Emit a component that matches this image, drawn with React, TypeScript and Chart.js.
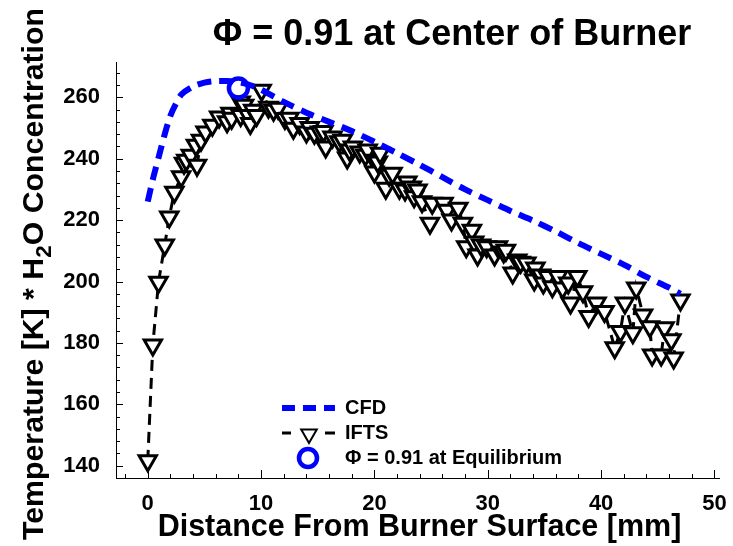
import React, { useEffect, useRef } from 'react';
import { Chart, registerables } from 'chart.js';

Chart.register(...registerables);

// ---- data ----
const TITLE = 'Φ = 0.91 at Center of Burner';
const X_TITLE = 'Distance From Burner Surface [mm]';
const Y_TITLE_PARTS = ['Temperature [K] * H', '2', 'O Concentration'];
const LEGEND_LABELS = ['CFD', 'IFTS', 'Φ = 0.91 at Equilibrium'];

const X_TICKS = [0, 10, 20, 30, 40, 50];
const Y_TICKS = [140, 160, 180, 200, 220, 240, 260];

const CFD_X = [0, 0.5, 1, 1.5, 2, 2.5, 3, 4, 5, 6, 7, 8, 9, 10, 12, 14, 16, 18, 20, 22, 24, 26, 28, 30, 32, 34, 36, 38, 40, 42, 44, 46, 47];
const CFD_Y = [226, 234, 241, 248, 254, 258, 261, 263.5, 264.8, 265.3, 265.3, 265, 264, 262.5, 258.5, 255, 252, 249, 245.5, 241.8, 238, 234, 230, 226.5, 223, 219.8, 216.3, 212.5, 209, 205.5, 201.5, 198, 196];

const IFTS_X = [
  0.0, 0.45, 0.95, 1.5, 1.9, 2.35, 2.95, 3.2, 3.4, 3.8,
  4.25, 4.35, 4.7, 5.1, 5.7, 6.3, 7.0, 7.3, 7.4, 8.2,
  8.2, 8.5, 8.9, 9.05, 9.3, 9.6, 10.05, 10.65, 11.1, 11.5,
  12.1, 12.5, 12.85, 13.4, 14.0, 14.3, 14.7, 15.2, 15.5, 15.7,
  16.3, 16.9, 17.2, 17.6, 17.8, 18.1, 18.7, 19.2, 19.4, 20.0,
  20.0, 20.3, 20.5, 21.0, 21.3, 21.6, 22.2, 22.7, 22.9, 23.3,
  23.5, 23.8, 24.2, 24.9, 25.1, 26.1, 26.4, 26.8, 27.4, 27.8,
  28.1, 28.6, 28.8, 29.1, 29.4, 29.9, 30.6, 30.9, 31.4, 31.6,
  32.2, 32.6, 32.9, 33.4, 34.1, 34.2, 34.7, 34.9, 35.3, 35.7,
  36.2, 36.6, 37.1, 37.3, 37.9, 38.4, 38.9, 39.6, 40.3, 41.2,
  41.7, 42.1, 42.8, 43.1, 43.7, 44.3, 44.5, 45.3, 45.6, 46.2,
  46.4, 47.0,
];
const IFTS_Y = [
  141.6, 179.3, 199.8, 211.9, 221, 229.1, 234.1, 238.5, 239.5, 241.1,
  244.4, 237.9, 246, 248.7, 250.9, 253.6, 252, 254.8, 253.2, 258.5,
  254.1, 257.4, 254.1, 251.5, 255.8, 254.1, 262.3, 256.8, 255.8, 256.4,
  253.1, 253.2, 249.9, 251.5, 248.7, 250.2, 248.3, 248.7, 248.9, 243.8,
  247.1, 245.5, 246, 240.2, 242.8, 243.8, 242.2, 241.1, 242.8, 239.5,
  235.7, 238.9, 241.8, 230.4, 234.6, 235.3, 230.4, 229.8, 232.4, 230.8,
  227.6, 229.8, 226, 219, 225.5, 225.5, 223.2, 220, 223.9, 219,
  211.3, 216.7, 212.9, 208.6, 211.9, 211.3, 208.6, 211.3, 209.6, 210.2,
  202.8, 207, 206.3, 206, 200.5, 204.4, 202.1, 199.5, 201.6, 198.3,
  201.6, 197.9, 199.5, 193, 201.6, 196.7, 188.6, 193, 190.2, 178.4,
  183.7, 193, 183.3, 197.9, 189.1, 185.3, 176.1, 176.1, 184.9, 181,
  175.1, 194,
];

const EQ_X = [8.0];
const EQ_Y = [263];

const FONT = "'Liberation Sans', Arial, Helvetica, sans-serif";
const BLUE = '#0000ff';

const decorPlugin = {
  id: 'decor',
  afterDraw(chart: any) {
    const ctx = chart.ctx as CanvasRenderingContext2D;
    const { left, right, top, bottom } = chart.chartArea;
    const xs = chart.scales.x;
    const ys = chart.scales.y;
    ctx.save();
    ctx.strokeStyle = '#000';
    ctx.lineWidth = 1;
    ctx.setLineDash([]);
    // inward ticks x
    for (let v = -2; v <= 50; v += 2) {
      const px = Math.round(xs.getPixelForValue(v)) + 0.5;
      if (px < left || px > right) continue;
      const len = v % 10 === 0 ? 8 : 4;
      ctx.beginPath();
      ctx.moveTo(px, bottom);
      ctx.lineTo(px, bottom - len);
      ctx.stroke();
    }
    // inward ticks y
    for (let v = 140; v <= 268; v += 4) {
      const py = Math.round(ys.getPixelForValue(v)) + 0.5;
      if (py < top || py > bottom) continue;
      const len = v % 20 === 0 ? 7 : 4;
      ctx.beginPath();
      ctx.moveTo(left, py);
      ctx.lineTo(left + len, py);
      ctx.stroke();
    }

    ctx.fillStyle = '#000';
    // main title
    ctx.font = `bold 36px ${FONT}`;
    ctx.textAlign = 'center';
    ctx.textBaseline = 'alphabetic';
    ctx.fillText(TITLE, 452, 45);

    // x title
    ctx.font = `bold 30.5px ${FONT}`;
    ctx.fillText(X_TITLE, (left + right) / 2 + 2, 536);

    // y title with subscript
    ctx.save();
    ctx.translate(43, 274);
    ctx.rotate(-Math.PI / 2);
    ctx.textAlign = 'left';
    const big = `bold 30.3px ${FONT}`;
    const small = `bold 22.5px ${FONT}`;
    ctx.font = big;
    const wA = ctx.measureText(Y_TITLE_PARTS[0]).width;
    const wC = ctx.measureText(Y_TITLE_PARTS[2]).width;
    ctx.font = small;
    const wB = ctx.measureText(Y_TITLE_PARTS[1]).width;
    const start = -(wA + wB + wC) / 2;
    ctx.font = big;
    ctx.fillText(Y_TITLE_PARTS[0], start, 0);
    ctx.font = small;
    ctx.fillText(Y_TITLE_PARTS[1], start + wA, 8);
    ctx.font = big;
    ctx.fillText(Y_TITLE_PARTS[2], start + wA + wB, 0);
    ctx.restore();

    // legend
    const lx0 = 282, lx1 = 335, tx = 345;
    const rows = [408, 433, 458];
    ctx.textAlign = 'left';
    ctx.textBaseline = 'middle';
    ctx.font = `bold 20px ${FONT}`;
    // CFD
    ctx.strokeStyle = BLUE;
    ctx.lineWidth = 6;
    ctx.setLineDash([13, 8]);
    ctx.beginPath();
    ctx.moveTo(lx0, rows[0]);
    ctx.lineTo(lx1, rows[0]);
    ctx.stroke();
    // IFTS
    ctx.strokeStyle = '#000';
    ctx.lineWidth = 3;
    ctx.setLineDash([]);
    ctx.beginPath();
    ctx.moveTo(lx0, rows[1]);
    ctx.lineTo(lx0 + 9, rows[1]);
    ctx.moveTo(lx1 - 10, rows[1]);
    ctx.lineTo(lx1, rows[1]);
    ctx.stroke();
    const cx = 309, cy = rows[1] + 1, r = 9;
    ctx.lineWidth = 2;
    ctx.beginPath();
    ctx.moveTo(cx - r * 0.866, cy - r / 2);
    ctx.lineTo(cx + r * 0.866, cy - r / 2);
    ctx.lineTo(cx, cy + r);
    ctx.closePath();
    ctx.fillStyle = '#fff';
    ctx.fill();
    ctx.stroke();
    // circle
    ctx.strokeStyle = BLUE;
    ctx.lineWidth = 4.5;
    ctx.beginPath();
    ctx.arc(308, rows[2], 9, 0, Math.PI * 2);
    ctx.stroke();
    ctx.fillStyle = '#000';
    LEGEND_LABELS.forEach((t, i) => ctx.fillText(t, tx, rows[i]));
    ctx.restore();
  },
};

export default function App() {
  const ref = useRef<HTMLCanvasElement | null>(null);
  useEffect(() => {
    if (!ref.current) return;
    const tickFont = { family: FONT, size: 22, weight: 'bold' as const };
    const chart = new Chart(ref.current, {
      type: 'scatter',
      data: {
        datasets: [
          {
            label: LEGEND_LABELS[2],
            data: EQ_X.map((x, i) => ({ x, y: EQ_Y[i] })),
            showLine: false,
            pointStyle: 'circle',
            pointRadius: 9.5,
            pointBorderWidth: 4.5,
            pointBorderColor: BLUE,
            pointBackgroundColor: 'rgba(0,0,0,0)',
            order: 0,
          },
          {
            label: LEGEND_LABELS[0],
            data: CFD_X.map((x, i) => ({ x, y: CFD_Y[i] })),
            showLine: true,
            borderColor: BLUE,
            borderWidth: 6,
            borderDash: [14, 8],
            pointRadius: 0,
            tension: 0.3,
            order: 1,
          },
          {
            label: LEGEND_LABELS[1],
            data: IFTS_X.map((x, i) => ({ x, y: IFTS_Y[i] })),
            showLine: true,
            borderColor: '#000',
            borderWidth: 3,
            borderDash: [11, 7],
            pointStyle: 'triangle',
            pointRotation: 180,
            pointRadius: 10,
            pointBorderWidth: 3,
            pointBorderColor: '#000',
            pointBackgroundColor: '#fff',
            order: 2,
          },
        ],
      },
      options: {
        animation: false,
        responsive: false,
        devicePixelRatio: 1,
        layout: { padding: { top: 62, right: 11, left: 0, bottom: 0 } },
        plugins: { legend: { display: false }, tooltip: { enabled: false }, title: { display: false } },
        scales: {
          x: {
            type: 'linear',
            min: -2.8,
            max: 50.4,
            grid: { display: false },
            border: { display: true, color: '#000', width: 1 },
            ticks: { font: tickFont, color: '#000', padding: 5 },
            afterBuildTicks: (s: any) => { s.ticks = X_TICKS.map((v) => ({ value: v })); },
            afterFit: (s: any) => { s.height = 68; },
          },
          y: {
            type: 'linear',
            min: 136,
            max: 271.5,
            grid: { display: false },
            border: { display: true, color: '#000', width: 1 },
            ticks: { font: tickFont, color: '#000', padding: 8 },
            afterBuildTicks: (s: any) => { s.ticks = Y_TICKS.map((v) => ({ value: v })); },
            afterFit: (s: any) => { s.width = 116; },
          },
        },
      },
      plugins: [decorPlugin],
    });
    return () => chart.destroy();
  }, []);
  return (
    <div style={{ position: 'fixed', left: 0, top: 0, width: 733, height: 546, background: '#fff' }}>
      <canvas ref={ref} width={733} height={546} style={{ display: 'block', width: 733, height: 546 }} />
    </div>
  );
}
